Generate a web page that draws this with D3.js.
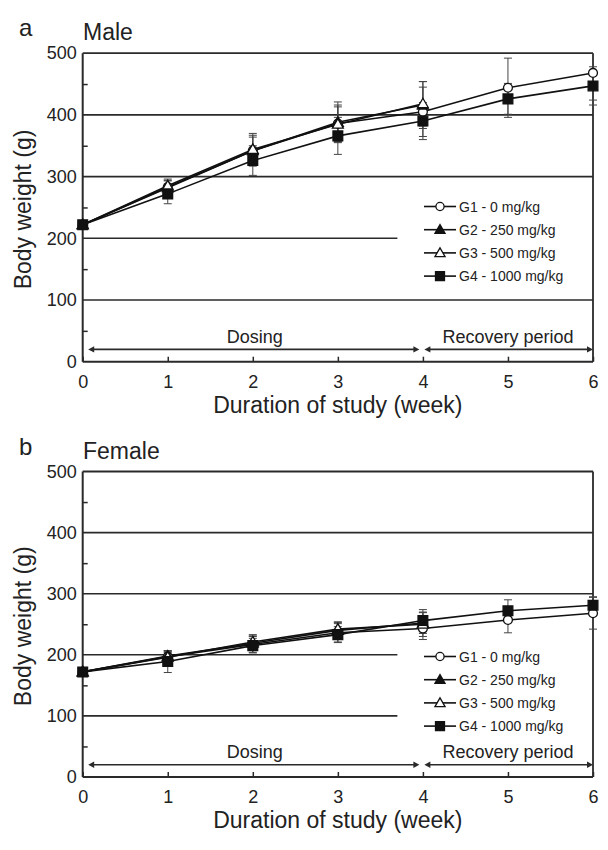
<!DOCTYPE html>
<html><head><meta charset="utf-8">
<script src="https://cdn.jsdelivr.net/npm/d3@7"></script>
<style>body{margin:0;background:#fff}svg{display:block}text{font-family:"Liberation Sans",Arial,sans-serif;fill:#222}</style>
</head><body><svg id="c" width="608" height="850"></svg>
<script>
const weeks = [0,1,2,3,4,5,6];
const yTicks = [0,100,200,300,400,500];
const xTicks = [0,1,2,3,4,5,6];
const groupNames = ["G1 - 0 mg/kg","G2 - 250 mg/kg","G3 - 500 mg/kg","G4 - 1000 mg/kg"];
// Male means / SD (G2, G3 only through week 4)
const maleG1 = [222,283,342,386,405,444,468];
const maleG2 = [222,282,342,388,416];
const maleG3 = [222,285,344,385,418];
const maleG4 = [222,272,326,366,390,426,447];
const maleG1sd = [6,10,25,30,40,48,44];
const maleG2sd = [6,12,22,33,38];
const maleG3sd = [6,11,26,28,36];
const maleG4sd = [6,16,24,30,30,25,31];
// Female
const femG1 = [172,197,217,236,243,257,268];
const femG2 = [172,198,219,240,252];
const femG3 = [172,196,221,242,250];
const femG4 = [172,189,215,233,256,272,281];
const femG1sd = [5,9,13,15,18,21,26];
const femG2sd = [5,8,12,13,17];
const femG3sd = [5,8,12,12,20];
const femG4sd = [5,18,12,13,18,18,14];

const svg = d3.select("#c");
const syms = [
  {type:d3.symbolCircle,size:62,fill:"#fff"},
  {type:d3.symbolTriangle,size:52,fill:"#111"},
  {type:d3.symbolTriangle,size:52,fill:"#fff"},
  {type:d3.symbolSquare,size:95,fill:"#111"}
];

function panel(cfg){
  const g = svg.append("g");
  const x = d3.scaleLinear().domain([0,6]).range([82.7,593]);
  const y = d3.scaleLinear().domain([0,500]).range([cfg.y0,cfg.y500]);
  const ink = "#2a2a2a";
  // gridlines
  yTicks.filter(v=>v>0&&v<500).forEach(v=>{
    const partial = cfg.partial.includes(v);
    g.append("line").attr("x1",x(0)).attr("x2",partial?x(3.7):x(6))
      .attr("y1",y(v)).attr("y2",y(v)).attr("stroke",ink).attr("stroke-width",1.6);
  });
  // frame: top and right
  g.append("line").attr("x1",x(0)).attr("x2",x(6)).attr("y1",y(500)).attr("y2",y(500)).attr("stroke",ink).attr("stroke-width",1.8);
  g.append("line").attr("x1",x(6)).attr("x2",x(6)).attr("y1",y(500)).attr("y2",y(0)).attr("stroke",ink).attr("stroke-width",1.8);
  // axes
  const ax = g.append("g").attr("transform",`translate(0,${y(0)})`)
    .call(d3.axisBottom(x).tickValues(xTicks).tickSize(-5).tickPadding(13).tickFormat(d3.format("d")));
  const ay = g.append("g").attr("transform",`translate(${x(0)},0)`)
    .call(d3.axisLeft(y).tickValues(yTicks).tickSize(0).tickPadding(6));
  const ayMinor = g.append("g").attr("transform",`translate(${x(0)},0)`)
    .call(d3.axisLeft(y).tickValues([50,150,250,350,450]).tickSize(-5).tickFormat(""));
  ayMinor.select(".domain").remove();
  [ax,ay,ayMinor].forEach(a=>{
    a.selectAll("path.domain").attr("stroke",ink).attr("stroke-width",2);
    a.selectAll(".tick line").attr("stroke",ink).attr("stroke-width",1.5);
    a.selectAll("text").attr("font-size",18).attr("fill","#222").style("font-family","Liberation Sans, Arial, sans-serif");
  });
  ax.select(".domain").attr("d",`M${x(0)},0H${x(6)}`);
  ay.select(".domain").attr("d",`M0,${y(0)}V${y(500)}`);
  ax.selectAll("text").attr("dy","0.72em");
  // arrows
  const ay2 = cfg.y0 - 12.3;
  function arrow(x1,x2){
    g.append("line").attr("x1",x1+4).attr("x2",x2-4).attr("y1",ay2).attr("y2",ay2).attr("stroke",ink).attr("stroke-width",1.6);
    g.append("path").attr("d",`M${x1},${ay2}l6,-3.2v6.4z`).attr("fill",ink);
    g.append("path").attr("d",`M${x2},${ay2}l-6,-3.2v6.4z`).attr("fill",ink);
  }
  arrow(x(0)+5.5,x(4)-3.5);
  arrow(x(4)+1.5,x(6));
  g.append("text").attr("x",(x(0)+x(4))/2+2).attr("y",cfg.y0-19).attr("text-anchor","middle").attr("font-size",18).text("Dosing");
  g.append("text").attr("x",(x(4)+x(6))/2).attr("y",cfg.y0-19).attr("text-anchor","middle").attr("font-size",18).text("Recovery period");
  // axis titles
  g.append("text").attr("x",x(3)).attr("y",cfg.y0+51).attr("text-anchor","middle").attr("font-size",23).text("Duration of study (week)");
  g.append("text").attr("transform",`translate(31,${(y(0)+y(500))/2+2}) rotate(-90)`).attr("text-anchor","middle").attr("font-size",23).text("Body weight (g)");
  g.append("text").attr("x",19).attr("y",cfg.y500-17).attr("font-size",24).text(cfg.letter);
  g.append("text").attr("x",83).attr("y",cfg.y500-13).attr("font-size",23).text(cfg.title);
  // error bars
  cfg.series.forEach((s,i)=>{
    s.vals.forEach((v,k)=>{
      const sd = s.sd[k];
      const xx = x(weeks[k]);
      const lo = Math.max(0,v-sd), hi = Math.min(500,v+sd);
      g.append("line").attr("x1",xx).attr("x2",xx).attr("y1",y(lo)).attr("y2",y(hi)).attr("stroke","#444").attr("stroke-width",1);
      [v-sd,v+sd].forEach(e=>{ if(e<=500) g.append("line").attr("x1",xx-4).attr("x2",xx+4).attr("y1",y(e)).attr("y2",y(e)).attr("stroke","#444").attr("stroke-width",1);});
    });
  });
  // lines
  const line = d3.line().x((d,k)=>x(weeks[k])).y(d=>y(d));
  cfg.series.forEach(s=>{
    g.append("path").datum(s.vals).attr("d",line).attr("fill","none").attr("stroke","#111").attr("stroke-width",1.6);
  });
  // markers
  cfg.series.forEach((s,i)=>{
    const sym = d3.symbol().type(syms[i].type).size(syms[i].size);
    g.selectAll(null).data(s.vals).enter().append("path")
      .attr("transform",(d,k)=>`translate(${x(weeks[k])},${y(d)+(i===1||i===2?0.8:0)})`)
      .attr("d",sym).attr("fill",syms[i].fill).attr("stroke","#111").attr("stroke-width",1.3);
  });
  // legend
  groupNames.forEach((n,i)=>{
    const ly = cfg.legY + i*23.2;
    g.append("line").attr("x1",424).attr("x2",456).attr("y1",ly).attr("y2",ly).attr("stroke","#111").attr("stroke-width",1.6);
    g.append("path").attr("transform",`translate(440,${ly+(i===1||i===2?0.8:0)})`)
      .attr("d",d3.symbol().type(syms[i].type).size(syms[i].size*0.85)).attr("fill",syms[i].fill).attr("stroke","#111").attr("stroke-width",1.3);
    g.append("text").attr("x",459).attr("y",ly).attr("dy","0.36em").attr("font-size",14).text(n);
  });
}

panel({letter:"a",title:"Male",y0:361.7,y500:53.2,partial:[200],legY:206.5,
  series:[{vals:maleG1,sd:maleG1sd},{vals:maleG2,sd:maleG2sd},{vals:maleG3,sd:maleG3sd},{vals:maleG4,sd:maleG4sd}]});
panel({letter:"b",title:"Female",y0:777,y500:471.5,partial:[200,100],legY:656.5,
  series:[{vals:femG1,sd:femG1sd},{vals:femG2,sd:femG2sd},{vals:femG3,sd:femG3sd},{vals:femG4,sd:femG4sd}]});
</script></body></html>
